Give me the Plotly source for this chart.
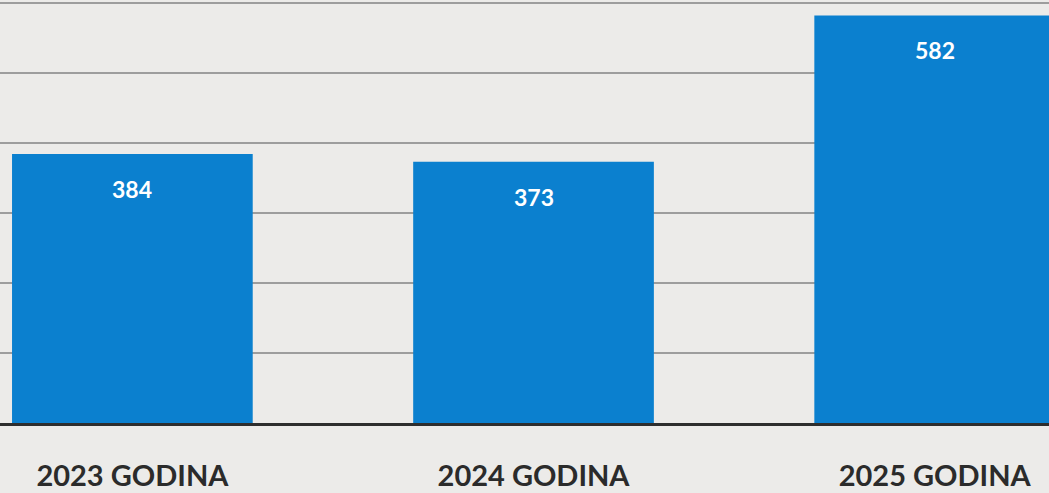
import plotly.graph_objects as go

categories = ["2023 GODINA", "2024 GODINA", "2025 GODINA"]
values = [384, 373, 582]
value_labels = ["384", "373", "582"]

bar_color = "#0b80cf"

fig = go.Figure()
fig.add_trace(go.Bar(
    x=categories,
    y=values,
    width=0.6,
    marker=dict(color=bar_color, line=dict(width=0)),
    hoverinfo="skip",
))

for c, v, t in zip(categories, values, value_labels):
    fig.add_annotation(
        x=c, y=v, text=t, showarrow=False, yshift=-35,
        font=dict(family="Lato", size=23, color="white", weight="bold"),
    )

fig.update_layout(
    width=1049, height=493,
    margin=dict(l=0, r=0, t=0, b=70),
    paper_bgcolor="#ecebe9",
    plot_bgcolor="#ecebe9",
    showlegend=False,
    bargap=0.4,
)
fig.update_xaxes(
    range=[-0.33, 2.285],
    showgrid=False,
    showline=True, linecolor="#2e2e2e", linewidth=3,
    ticks="",
    automargin=False,
    tickfont=dict(family="Lato", size=29, color="#2b2b2b", weight="bold"),
    ticklabelstandoff=25,
)
fig.update_yaxes(
    range=[0, 604],
    dtick=100,
    showgrid=True, gridcolor="#9d9d9d", gridwidth=1.5,
    zeroline=False,
    showticklabels=False,
    ticks="",
    automargin=False,
)

fig.write_html(
    "out.html",
    config={"displayModeBar": False, "staticPlot": True},
    post_script="document.body.style.margin='0';document.body.style.background='#ecebe9';",
)
